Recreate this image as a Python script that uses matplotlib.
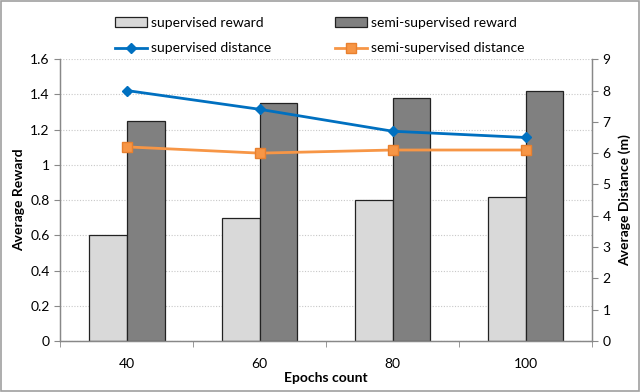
import matplotlib
matplotlib.use("Agg")
import matplotlib.pyplot as plt
import numpy as np
from matplotlib.patches import Rectangle

categories = ["40", "60", "80", "100"]
sup_reward = [0.60, 0.70, 0.80, 0.82]
semi_reward = [1.25, 1.35, 1.38, 1.42]
sup_dist = [8.0, 7.4, 6.7, 6.5]
semi_dist = [6.2, 6.0, 6.1, 6.1]

plt.rcParams['font.family'] = ['Lato', 'DejaVu Sans']

fig = plt.figure(figsize=(6.4, 3.92), dpi=100)
fig.patches.append(Rectangle((0.002, 0.003), 0.996, 0.994, transform=fig.transFigure,
                             fill=False, edgecolor='#a0a0a0', linewidth=1.2))
ax = fig.add_axes([0.094, 0.130, 0.831, 0.719])
ax2 = ax.twinx()

x = np.arange(len(categories))
w = 0.285
b1 = ax.bar(x - w/2, sup_reward, w, color='#d9d9d9', edgecolor='#222222', linewidth=0.9,
            label='supervised reward', zorder=2)
b2 = ax.bar(x + w/2, semi_reward, w, color='#808080', edgecolor='#222222', linewidth=0.9,
            label='semi-supervised reward', zorder=2)
ax.set_ylim(0, 1.6)
ax.set_xlim(-0.5, len(categories) - 0.5)
ax.set_yticks(np.arange(0, 1.61, 0.2))
ax.set_yticklabels(['0', '0.2', '0.4', '0.6', '0.8', '1', '1.2', '1.4', '1.6'])
ax.yaxis.grid(True, linestyle=(0, (1, 1.5)), color='#c8c8c8', linewidth=0.8, zorder=0)
ax.set_axisbelow(True)
ax.set_xticks(x)
ax.set_xticklabels(categories)
ax.set_xticks(np.arange(-0.5, len(categories)), minor=True)
ax.tick_params(axis='x', which='major', length=0, pad=12)
ax.tick_params(axis='x', which='minor', length=4, color='#888888')
ax.tick_params(axis='y', length=4, color='#888888')
ax.tick_params(labelsize=10)
ax.set_xlabel('Epochs count', fontsize=10, fontweight='bold', labelpad=2)
ax.set_ylabel('Average Reward', fontsize=10, fontweight='bold', labelpad=4)

l1, = ax2.plot(x, sup_dist, color='#0070c0', linewidth=2, marker='D', markersize=5.5,
               label='supervised distance', zorder=3)
l2, = ax2.plot(x, semi_dist, color='#f79646', linewidth=2, marker='s', markersize=7,
               markeredgecolor='#e8802f', label='semi-supervised distance', zorder=3)
ax2.set_ylim(0, 9)
ax2.set_yticks(range(0, 10))
ax2.tick_params(axis='y', length=4, color='#888888', labelsize=10)
ax2.set_ylabel('Average Distance (m)', fontsize=10, fontweight='bold', labelpad=6)

for a in (ax, ax2):
    a.spines['top'].set_visible(False)
    for s in ('left', 'right', 'bottom'):
        a.spines[s].set_color('#888888')
        a.spines[s].set_linewidth(0.9)

fig.legend([b1, l1, b2, l2],
           ['supervised reward', 'supervised distance', 'semi-supervised reward', 'semi-supervised distance'],
           ncol=2, loc='upper center', bbox_to_anchor=(0.5, 0.988), frameon=False,
           fontsize=10, columnspacing=4.6, handlelength=2.3, handletextpad=0.3, labelspacing=0.95)

fig.savefig('out.png', dpi=100)
